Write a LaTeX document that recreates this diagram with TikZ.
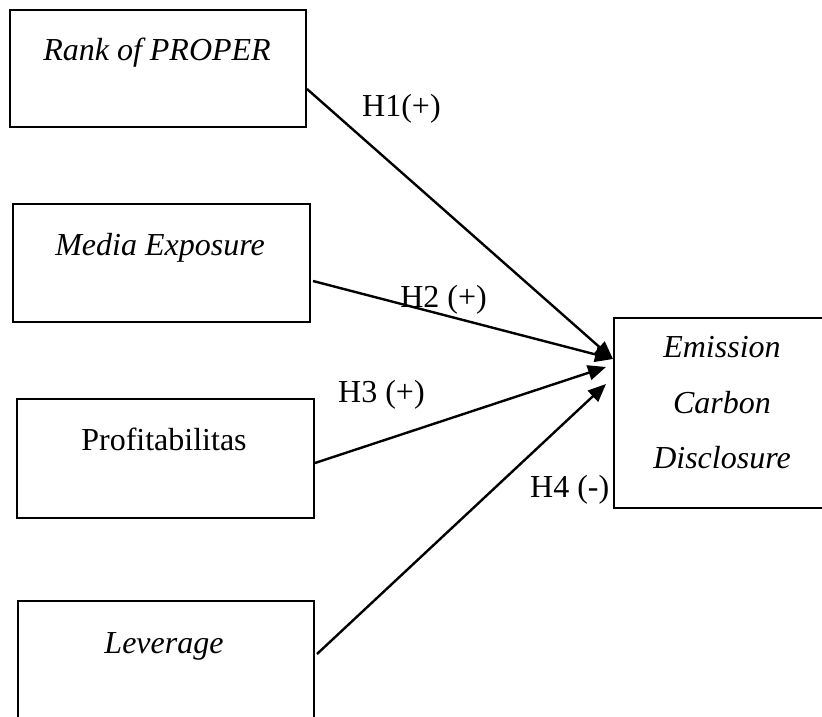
\documentclass[tikz,border=0pt]{standalone}
\usepackage{fontspec}
\setmainfont{Liberation Serif}
\usetikzlibrary{arrows.meta}
\begin{document}
\begin{tikzpicture}[x=1pt,y=-1pt,
  box/.style={draw,line width=2.2pt,rectangle,inner sep=0pt,anchor=north west},
  txt/.style={inner sep=0pt,anchor=base,font=\fontsize{32}{38}\selectfont},
  lbl/.style={inner sep=0pt,font=\fontsize{32}{38}\selectfont},
  conn/.style={line width=2.4pt,-{Triangle[length=18pt,width=15pt]}}]
\useasboundingbox (0,0) rectangle (822,717);
\clip (0,0) rectangle (822,717);
% boxes
\node[box,minimum width=296pt,minimum height=117pt] (b1) at (9,9) {};
\node[box,minimum width=297pt,minimum height=118pt] (b2) at (12,203) {};
\node[box,minimum width=297pt,minimum height=119pt] (b3) at (16,398) {};
\node[box,minimum width=296pt,minimum height=140pt] (b4) at (17,600) {};
\node[box,minimum width=230pt,minimum height=190pt] (b5) at (613,317) {};
% texts
\node[txt] (t1) at (157,61) {\textit{Rank of PROPER}};
\node[txt] (t2) at (160,255) {\textit{Media Exposure}};
\node[txt] (t3) at (164,450) {Profitabilitas};
\node[txt] (t4) at (164,653) {\textit{Leverage}};
\node[txt] (t5a) at (722,357) {\textit{Emission}};
\node[txt] (t5b) at (722,413) {\textit{Carbon}};
\node[txt] (t5c) at (722,468) {\textit{Disclosure}};
% connector end points
\coordinate (s1) at (307,89);
\coordinate (s2) at (313,281);
\coordinate (s3) at (315,463);
\coordinate (s4) at (317,654);
\coordinate (e1) at (613,359);
\coordinate (e2) at (613,359);
\coordinate (e3) at (606,367);
\coordinate (e4) at (606,384);
\draw[conn] (s1) -- (e1);
\draw[conn] (s2) -- (e2);
\draw[conn] (s3) -- (e3);
\draw[conn] (s4) -- (e4);
% labels
\node[lbl,anchor=base west] (h1) at (362,117) {H1(+)};
\node[lbl,anchor=base east] (h2) at (487,307) {H2 (+)};
\node[lbl,anchor=base west] (h3) at (338,402) {H3 (+)};
\node[lbl,anchor=base west] (h4) at (530,497) {H4 (-)};
\end{tikzpicture}
\end{document}
